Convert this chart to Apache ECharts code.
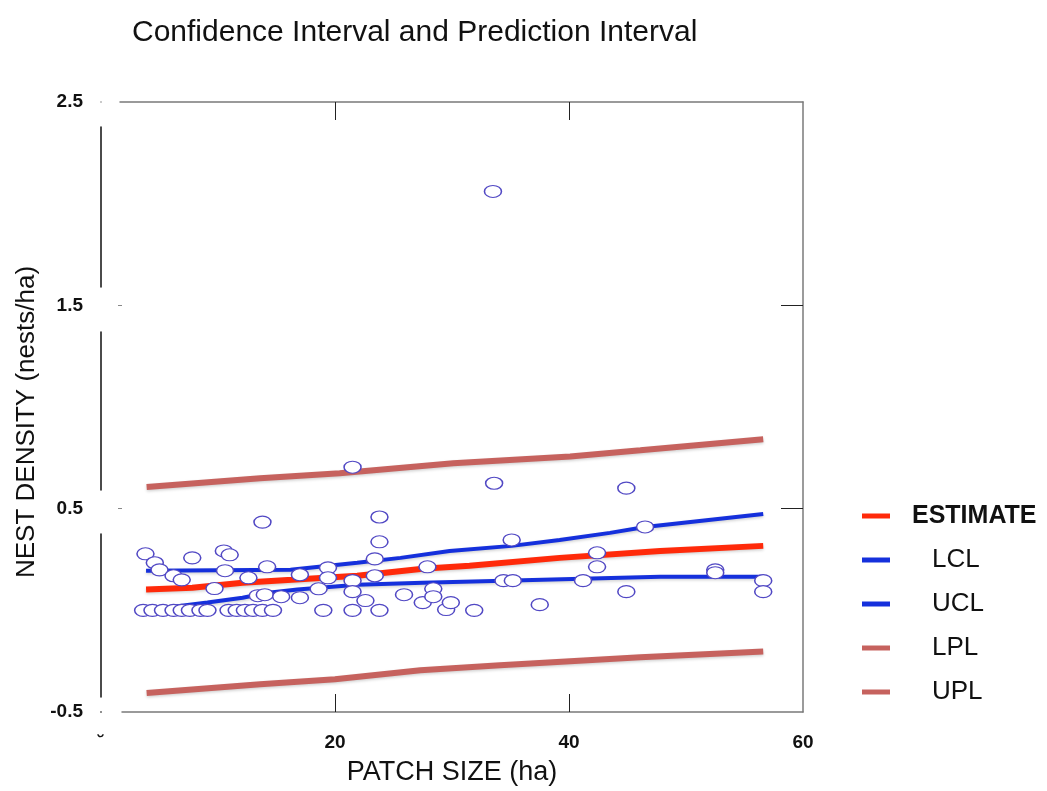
<!DOCTYPE html>
<html>
<head>
<meta charset="utf-8">
<script src="https://cdn.jsdelivr.net/npm/echarts@6/dist/echarts.min.js"></script>
<style>html,body{margin:0;padding:0;background:#fff}#c{width:1047px;height:791px}</style>
</head>
<body>
<div id="c"></div>
<script>
// ---- data ----
const xTicks = [0, 20, 40, 60];
const yTicks = [-0.5, 0.5, 1.5, 2.5];
const seriesNames = ['ESTIMATE', 'LCL', 'UCL', 'LPL', 'UPL'];

const estimateLine = [[3.85,0.102],[7.8,0.111],[12.1,0.136],[16.3,0.150],[21.9,0.170],[27.5,0.204],[31.5,0.219],[39.2,0.258],[47.8,0.292],[56.6,0.317]];
const lclLine = [[3.85,0.004],[5.7,0.014],[9.1,0.039],[12.1,0.062],[14.3,0.087],[16.8,0.102],[21.9,0.126],[27.5,0.136],[34.4,0.146],[47.8,0.165],[56.6,0.165]];
const uclLine = [[3.85,0.195],[16.2,0.200],[21.9,0.234],[25.6,0.258],[29.8,0.292],[35.1,0.317],[39.2,0.346],[43.5,0.381],[46.5,0.410],[56.6,0.474]];
const lplLine = [[3.9,-0.407],[13.6,-0.363],[20.0,-0.339],[27.3,-0.295],[34.1,-0.270],[46.1,-0.231],[56.6,-0.202]];
const uplLine = [[3.9,0.606],[13.6,0.650],[20.4,0.674],[30.1,0.723],[40.1,0.757],[46.1,0.787],[56.6,0.841]];

const observed = [
 [3.6,0],[4.4,0],[5.3,0],[6.2,0],[6.9,0],[7.6,0],[8.5,0],[9.1,0],[10.9,0],[11.6,0],[12.3,0],[13.0,0],[13.8,0],[14.7,0],
 [19.0,0],[21.5,0],[23.8,0],[29.5,0.004],[31.9,0],
 [3.8,0.278],[4.6,0.234],[5.0,0.199],[7.8,0.258],[10.5,0.292],[11.0,0.273],[6.2,0.170],[6.9,0.150],[10.6,0.195],
 [12.6,0.160],[14.2,0.214],[9.7,0.107],[13.4,0.072],[14.0,0.077],[15.4,0.067],[13.8,0.434],
 [17.0,0.175],[17.0,0.062],[18.6,0.106],[19.4,0.209],[19.4,0.160],[21.5,0.146],[21.5,0.092],[21.5,0.704],
 [22.6,0.048],[23.4,0.253],[23.4,0.170],[23.8,0.337],[23.8,0.459],[25.9,0.077],[27.5,0.038],[27.9,0.214],
 [28.4,0.106],[28.4,0.067],[29.9,0.038],[33.5,2.06],[33.6,0.625],[34.4,0.146],[35.2,0.146],[35.1,0.346],
 [37.5,0.028],[41.2,0.146],[42.4,0.283],[42.4,0.214],[44.9,0.601],[44.9,0.092],[46.5,0.410],
 [52.5,0.199],[52.5,0.185],[56.6,0.146],[56.6,0.092]
];

const FONT = "'Liberation Sans', Arial, sans-serif";
const innerXTicks = xTicks.slice(1, xTicks.length - 1);
const innerYTicks = yTicks.slice(1, yTicks.length - 1);
const chart = echarts.init(document.getElementById('c'), null, {renderer: 'canvas'});

function lineSeries(name, data, color, width) {
  return {
    name: name, type: 'line', data: data, showSymbol: false, symbol: 'none', smooth: false,
    lineStyle: {color: color, width: width, shadowBlur: 3, shadowColor: 'rgba(0,0,0,0.18)', shadowOffsetY: 1.5},
    itemStyle: {color: color}, z: 3
  };
}

chart.setOption({
  animation: false,
  backgroundColor: '#fff',
  title: {
    text: 'Confidence Interval and Prediction Interval',
    left: 127, top: 13,
    textStyle: {fontFamily: FONT, fontSize: 30, fontWeight: 'normal', color: '#111'}
  },
  grid: {left: 101, right: 244, top: 102, bottom: 76, containLabel: false},
  legend: {
    data: seriesNames,
    orient: 'vertical',
    left: 857, top: 498,
    itemWidth: 28, itemHeight: 5, itemGap: 18,
    icon: 'rect',
    selectedMode: false,
    formatter: function (n) { return n === 'ESTIMATE' ? '{b|' + n + '}' : '{n|' + n + '}'; },
    textStyle: {
      fontFamily: FONT, fontSize: 26, color: '#111', lineHeight: 26,
      rich: {
        b: {fontFamily: FONT, fontSize: 25, fontWeight: 'bold', color: '#111', padding: [0, 0, 0, 17], lineHeight: 26},
        n: {fontFamily: FONT, fontSize: 26, color: '#111', padding: [0, 0, 0, 37], lineHeight: 26}
      }
    }
  },
  xAxis: [{
    type: 'value', position: 'bottom', min: 0, max: 60, interval: 20,
    name: 'PATCH SIZE (ha)', nameLocation: 'middle', nameGap: 47,
    nameTextStyle: {fontFamily: FONT, fontSize: 27, color: '#111'},
    axisLine: {show: true, onZero: false, lineStyle: {color: '#7a7a7a', width: 1.5, type: [0, 21, 2000]}},
    axisTick: {show: true, inside: true, length: 18, customValues: innerXTicks, lineStyle: {color: '#222', width: 1}},
    axisLabel: {
      margin: 21, fontFamily: FONT, fontSize: 19, fontWeight: 'bold', color: '#111',
      formatter: function (v) { return v === xTicks[0] ? '˘' : String(v); }
    },
    splitLine: {show: false}
  }, {
    type: 'value', position: 'top', min: 0, max: 60, interval: 20,
    axisLine: {show: true, onZero: false, lineStyle: {color: '#7a7a7a', width: 1.5, type: [0, 19, 2000]}},
    axisTick: {show: true, inside: true, length: 18, customValues: innerXTicks, lineStyle: {color: '#222', width: 1}},
    axisLabel: {show: false},
    splitLine: {show: false}
  }],
  yAxis: [{
    type: 'value', position: 'left', min: yTicks[0], max: yTicks[yTicks.length - 1], interval: 1,
    name: 'NEST DENSITY (nests/ha)', nameLocation: 'middle', nameGap: 58, nameRotate: 90,
    nameTextStyle: {fontFamily: FONT, fontSize: 26, color: '#111', padding: [0, 30, 0, 0]},
    axisLine: {show: true, onZero: false, lineStyle: {color: '#111', width: 1.5, type: [0, 15, 163, 44, 158, 45, 160, 100]}},
    axisTick: {show: true, inside: true, length: 21, customValues: innerYTicks, lineStyle: {color: '#888', width: 1, type: [0, 17, 4, 50]}},
    axisLabel: {margin: 18, fontFamily: FONT, fontSize: 19, fontWeight: 'bold', color: '#111'},
    splitLine: {show: false}
  }, {
    type: 'value', position: 'right', min: yTicks[0], max: yTicks[yTicks.length - 1], interval: 1,
    axisLine: {show: true, onZero: false, lineStyle: {color: '#7a7a7a', width: 1.5}},
    axisTick: {show: true, inside: true, length: 22, customValues: innerYTicks, lineStyle: {color: '#222', width: 1}},
    axisLabel: {show: false},
    splitLine: {show: false}
  }],
  series: [
    lineSeries('ESTIMATE', estimateLine, '#ff2a0a', 6),
    lineSeries('LCL', lclLine, '#1530dc', 4),
    lineSeries('UCL', uclLine, '#1530dc', 4),
    lineSeries('LPL', lplLine, '#c6625e', 6),
    lineSeries('UPL', uplLine, '#c6625e', 6),
    {
      name: 'observed', type: 'scatter', data: observed,
      symbol: 'circle', symbolSize: [17, 12],
      itemStyle: {color: '#ffffff', borderColor: '#5148c4', borderWidth: 1.3, opacity: 1},
      z: 5
    }
  ]
});
</script>
</body>
</html>
